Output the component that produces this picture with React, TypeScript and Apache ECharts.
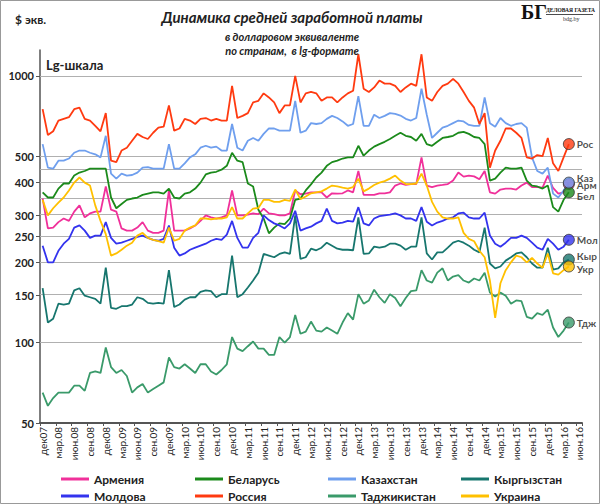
import { useRef, useEffect } from "react";
import * as echarts from "echarts";

// months dec07 .. jun16, labels shown every 3rd
const monthNames = ["дек", "янв", "фев", "мар", "апр", "май", "июн", "июл", "авг", "сен", "окт", "ноя"];
const categories: string[] = [];
for (let i = 0; i < 103; i++) {
  const m = i % 12;
  const yy = String(7 + Math.floor((i + 11) / 12)).padStart(2, "0");
  categories.push(m === 0 ? monthNames[m] + yy : monthNames[m] + "." + yy);
}

const armenia = [347,268,270,283,292,286,310,327,295,305,310,310,
  385,315,310,268,263,263,270,283,263,258,258,263,372,263,263,263,268,275,286,300,295,292,295,300,372,
  300,300,302,305,303,318,305,303,300,300,305,372,360,362,366,366,366,350,363,362,363,372,
  366,440,358,358,358,363,363,366,388,395,390,393,393,495,388,383,388,390,393,405,434,
  419,423,420,410,440,366,362,375,378,378,375,388,398,383,383,381,423,380,362,366,393];
const belarus = [366,350,350,378,395,395,423,434,440,449,449,449,
  449,350,319,331,343,347,350,358,362,366,366,362,378,350,347,362,366,378,398,427,434,437,445,460,515,
  481,475,395,385,315,292,257,270,280,278,292,343,347,372,392,416,434,460,475,481,490,495,
  495,547,502,525,543,555,566,580,596,612,596,590,571,606,555,547,566,585,590,596,612,
  617,606,590,585,555,405,412,434,453,449,449,453,405,388,385,378,388,322,310,343,366];
const kazakhstan = [555,453,449,481,481,490,515,525,525,515,508,495,
  596,430,412,430,423,425,434,453,455,449,449,449,555,449,449,470,495,508,538,547,538,543,525,525,660,
  538,525,571,585,571,606,635,635,623,623,623,806,612,623,665,660,665,690,708,695,675,650,
  660,840,650,650,715,695,708,725,720,710,690,680,695,895,715,585,612,640,650,665,680,
  675,655,650,650,830,665,645,695,665,650,660,665,640,495,440,430,453,362,350,372,398];
const kyrgyzstan = [160,119,123,140,139,140,157,160,150,148,146,140,
  191,135,134,137,137,139,148,146,141,140,141,140,187,136,139,145,148,148,155,157,156,148,152,152,212,
  148,152,161,171,183,215,212,209,215,218,215,300,206,209,225,222,227,237,231,225,223,223,
  222,295,215,216,229,227,229,235,235,231,223,229,229,295,216,205,218,218,227,237,241,
  237,231,223,218,270,198,190,193,203,209,216,218,209,198,191,191,227,188,190,200,205];
const moldova = [231,200,200,221,235,245,270,275,263,247,252,252,
  283,247,235,237,241,245,249,252,247,243,241,245,275,227,212,216,223,227,231,235,241,245,243,254,286,
  247,227,227,247,258,300,288,280,275,268,280,312,263,268,272,280,286,318,286,280,282,286,
  284,322,280,275,292,298,300,302,305,300,292,292,286,322,284,275,282,286,292,295,305,
  307,295,292,292,307,252,235,229,237,247,247,252,247,237,227,223,245,235,223,229,243];
const russia = [750,600,620,680,690,700,750,760,690,680,650,620,
  725,481,475,525,538,571,606,590,580,612,640,645,775,623,635,690,680,660,690,695,680,690,680,680,917,
  695,708,725,795,806,860,830,795,725,775,775,1000,795,860,870,860,806,830,830,795,830,860,
  879,1205,895,870,905,960,935,935,917,870,905,935,917,1205,830,806,870,917,935,975,935,
  870,806,760,660,725,453,525,571,635,635,612,585,495,490,505,500,585,470,440,495,555];
const tajikistan = [65,58,62,65,65,65,69,69,66,77,78,77,
  96,81,77,79,75,65,68,70,65,67,69,71,88,81,80,83,80,77,83,83,78,76,79,83,105,
  95,93,97,101,95,95,90,90,105,100,105,127,108,110,120,111,110,114,111,108,119,129,
  122,152,140,144,158,148,141,152,147,137,147,156,157,187,171,168,183,190,171,177,179,
  171,168,174,171,183,154,149,154,150,140,144,143,125,123,129,127,133,114,105,111,119];
const ukraine = [343,300,319,335,350,372,398,416,398,388,327,286,
  255,212,216,223,231,237,252,258,247,243,240,237,270,241,245,263,270,275,292,292,290,292,292,295,322,
  292,292,305,318,320,343,343,337,337,343,340,375,345,353,363,366,369,378,388,385,381,378,
  383,412,369,378,390,398,403,412,423,405,393,393,395,430,388,337,310,295,292,292,295,
  258,245,240,221,209,171,124,167,187,200,212,209,200,208,198,191,216,182,180,187,193];

const countries = [
  { name: "Армения", short: "Арм", data: armenia, color: "#f0309a", dy: 1 },
  { name: "Беларусь", short: "Бел", data: belarus, color: "#1b8a1b", dy: 4 },
  { name: "Казахстан", short: "Каз", data: kazakhstan, color: "#6f9fee", dy: -5 },
  { name: "Кыргызстан", short: "Кыр", data: kyrgyzstan, color: "#17766e", dy: -3 },
  { name: "Молдова", short: "Мол", data: moldova, color: "#3333ee", dy: 0 },
  { name: "Россия", short: "Рос", data: russia, color: "#ff3a10", dy: 0 },
  { name: "Таджикистан", short: "Тдж", data: tajikistan, color: "#3a9a6a", dy: 0 },
  { name: "Украина", short: "Укр", data: ukraine, color: "#ffc000", dy: 3 },
];

const yTicks = [50, 100, 150, 200, 250, 300, 400, 500, 1000];
const gridValues = [100, 150, 200, 250, 300, 350, 400, 450, 500, 1000, 1250];

const legendCols = [56, 190, 323, 456];
const legendRows = [468, 485];

export default function App() {
  const chartRef = useRef<HTMLDivElement>(null);

  useEffect(() => {
    document.body.style.margin = "0";
    if (!chartRef.current) return;
    const chart = echarts.init(chartRef.current, undefined, { renderer: "svg" });
    const lg = (v: number) => Math.log10(v);
    const font = "Lato, 'Open Sans', sans-serif";
    const last = 100;

    const lineSeries = countries.map((c, idx) => ({
      name: c.name,
      type: "line",
      data: c.data.map(lg),
      symbol: "none",
      lineStyle: { width: 1.8, color: c.color },
      itemStyle: { color: c.color },
      z: 3,
      ...(idx === 0
        ? {
            markLine: {
              silent: true,
              symbol: "none",
              label: { show: false },
              lineStyle: { color: "#b0b0b0", width: 1, type: "solid" },
              data: gridValues.map((v) => ({ yAxis: lg(v) })),
              z: 1,
            },
          }
        : {}),
    }));

    chart.setOption({
      animation: false,
      textStyle: { fontFamily: font },
      title: [
        {
          text: "Динамика средней заработной платы",
          left: 287,
          top: 4,
          textAlign: "center",
          textStyle: { fontSize: 15, fontStyle: "italic", fontWeight: "bold", color: "#222", fontFamily: font },
        },
        {
          text: "в долларовом эквиваленте\nпо странам,  в lg-формате",
          left: 287,
          top: 24,
          textAlign: "center",
          textStyle: { fontSize: 11, fontStyle: "italic", fontWeight: "bold", color: "#222", lineHeight: 14, fontFamily: font },
        },
      ],
      graphic: [
        { type: "text", left: 15, top: 13, style: { text: "$ экв.", font: `bold 12px ${font}`, fill: "#222" } },
        { type: "text", left: 46, top: 58, style: { text: "Lg-шкала", font: `bold 13px ${font}`, fill: "#222" } },
        { type: "text", left: 521, top: 2, style: { text: "БГ", font: "bold 20px 'Liberation Serif', serif", fill: "#111" } },
        { type: "text", left: 546, top: 7, style: { text: "ДЕЛОВАЯ ГАЗЕТА", font: "bold 5.5px 'Liberation Serif', serif", fill: "#111" } },
        { type: "rect", shape: { x: 546, y: 14, width: 47, height: 0.8 }, style: { fill: "#111" } },
        { type: "text", left: 563, top: 16, style: { text: "bdg.by", font: "6px 'Liberation Serif', serif", fill: "#333" } },
        { type: "rect", shape: { x: 0.5, y: 0.5, width: 599, height: 503 }, style: { fill: "none", stroke: "#999", lineWidth: 1 }, silent: true },
      ],
      legend: countries.map((c, i) => ({
        data: [c.name],
        left: legendCols[i % 4],
        top: legendRows[Math.floor(i / 4)],
        icon: "rect",
        itemWidth: 28,
        itemHeight: 3,
        itemGap: 5,
        selectedMode: false,
        textStyle: { fontSize: 12, color: "#222", fontWeight: "bold", fontFamily: font },
      })),
      grid: { left: 40, right: 18, top: 50, bottom: 81, containLabel: false },
      xAxis: {
        type: "category",
        data: categories,
        boundaryGap: true,
        axisLine: { lineStyle: { color: "#555", width: 2 } },
        axisTick: { show: true, interval: 2, length: 3, lineStyle: { color: "#555" } },
        axisLabel: { interval: 2, rotate: 90, fontSize: 10, color: "#222", margin: 4, fontFamily: font },
        splitLine: { show: false },
      },
      yAxis: {
        type: "value",
        min: lg(50),
        max: lg(1250),
        axisLine: { show: true, lineStyle: { color: "#555", width: 1.5 } },
        axisTick: { show: true, length: 4, customValues: yTicks.map(lg), lineStyle: { color: "#555" } },
        axisLabel: {
          customValues: yTicks.map(lg),
          formatter: (v: number) => String(Math.round(Math.pow(10, v))),
          fontSize: 11,
          fontWeight: "bold",
          color: "#222",
          margin: 6,
          fontFamily: font,
        },
        splitLine: { show: false },
      },
      series: [
        ...lineSeries,
        {
          name: "end",
          type: "scatter",
          symbolSize: 11,
          z: 5,
          data: countries.map((c) => ({
            value: [last, lg(c.data[last])],
            itemStyle: { color: c.color, borderColor: "#333", borderWidth: 1 },
            label: {
              show: true,
              position: "right",
              distance: 2,
              offset: [0, c.dy],
              formatter: c.short,
              fontSize: 10,
              fontWeight: "bold",
              color: "#222",
              fontFamily: font,
            },
          })),
        },
      ],
    } as any);

    return () => chart.dispose();
  }, []);

  return <div ref={chartRef} style={{ width: 600, height: 504 }} />;
}
